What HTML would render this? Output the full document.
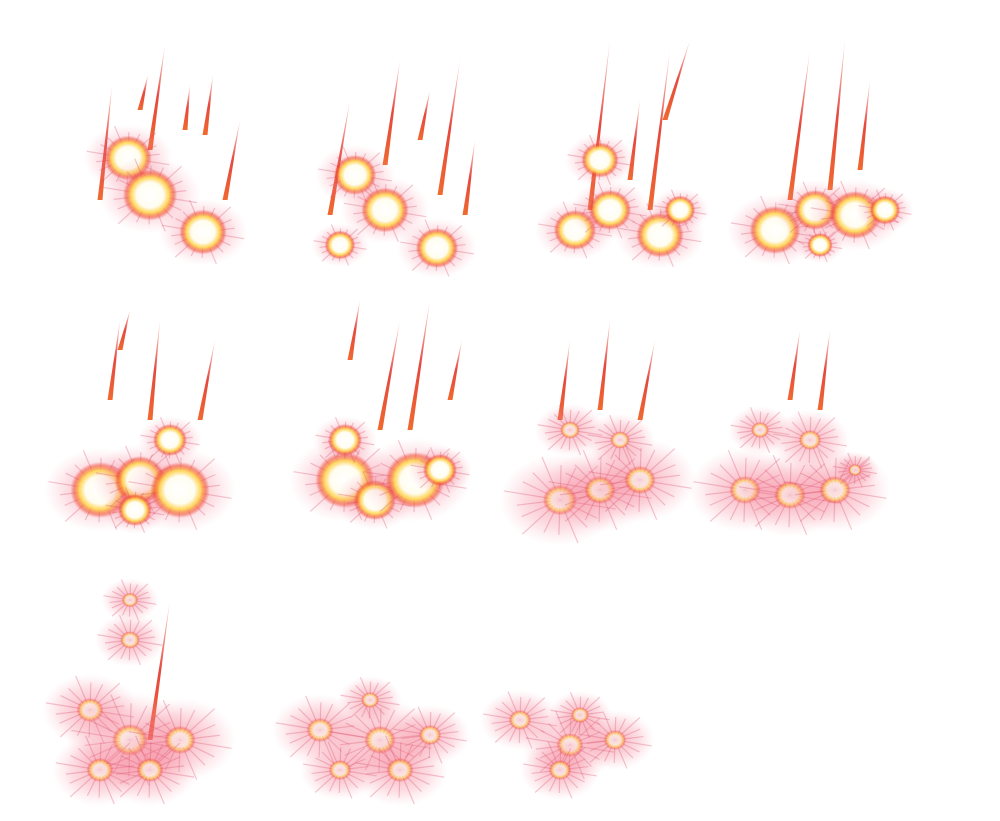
<!DOCTYPE html>
<html><head><meta charset="utf-8"><style>
html,body{margin:0;padding:0;background:#fff;width:1000px;height:821px;overflow:hidden}
svg{display:block}
</style></head><body>
<svg id="sheet" width="1000" height="821" viewBox="0 0 1000 821" xmlns="http://www.w3.org/2000/svg">
<defs>
<radialGradient id="halo"><stop offset="0" stop-color="#f25a78" stop-opacity="0.5"/><stop offset="0.6" stop-color="#f47a90" stop-opacity="0.25"/><stop offset="1" stop-color="#f7a0b0" stop-opacity="0"/></radialGradient>
<radialGradient id="core"><stop offset="0" stop-color="#ffffff"/><stop offset="0.5" stop-color="#fffdf0"/><stop offset="0.7" stop-color="#ffd850" stop-opacity="0.9"/><stop offset="0.88" stop-color="#f04020" stop-opacity="0.5"/><stop offset="1" stop-color="#e83030" stop-opacity="0"/></radialGradient>
<linearGradient id="streak" x1="0" y1="0" x2="0" y2="1"><stop offset="0" stop-color="#e83a30" stop-opacity="0.15"/><stop offset="0.5" stop-color="#e23428" stop-opacity="0.9"/><stop offset="1" stop-color="#f06a30"/></linearGradient>
</defs>
</svg>
<script>
const NS="http://www.w3.org/2000/svg";
const svg=document.getElementById('sheet');
const frame1Bursts=[[128,158,28],[150,195,32],[203,232,28]];
const frame1Streaks=[[100,200,112,85],[150,150,165,45],[185,130,190,85],[205,135,213,75],[225,200,240,120],[140,110,148,75]];
const frame2Bursts=[[355,175,25],[385,210,28],[437,248,25],[340,245,18]];
const frame2Streaks=[[330,215,350,100],[385,165,400,60],[440,195,460,60],[465,215,475,140],[420,140,430,90]];
const frame3Bursts=[[600,160,22],[575,230,25],[610,210,25],[660,235,28],[680,210,18]];
const frame3Streaks=[[590,210,610,40],[650,210,670,50],[630,180,640,100],[665,120,690,40]];
const frame4Bursts=[[775,230,30],[815,210,25],[855,215,30],[885,210,18],[820,245,15]];
const frame4Streaks=[[790,200,810,50],[830,190,845,40],[860,170,870,80]];
const frame5Bursts=[[100,490,35],[140,480,30],[180,490,35],[135,510,20],[170,440,20]];
const frame5Streaks=[[110,400,120,320],[150,420,160,320],[200,420,215,340],[120,350,130,310]];
const frame6Bursts=[[345,480,35],[375,500,25],[415,480,35],[440,470,20],[345,440,20]];
const frame6Streaks=[[350,360,360,300],[380,430,400,320],[410,430,430,300],[450,400,462,340]];
const frame7Bursts=[[560,500,38],[600,490,35],[640,480,35],[570,430,22],[620,440,22]];
const frame7Streaks=[[560,420,570,340],[600,410,610,320],[640,420,655,340]];
const frame8Bursts=[[745,490,35],[790,495,35],[835,490,35],[760,430,20],[810,440,25],[855,470,15]];
const frame8Streaks=[[790,400,800,330],[820,410,830,330]];
const frame9Bursts=[[90,710,30],[130,740,40],[180,740,35],[100,770,30],[150,770,30],[130,640,22],[130,600,18]];
const frame9Streaks=[[150,740,170,600]];
const frame10Bursts=[[320,730,30],[380,740,35],[430,735,25],[340,770,25],[400,770,30],[370,700,20]];
const frame10Streaks=[];
const frame11Bursts=[[520,720,25],[570,745,30],[615,740,25],[580,715,20],[560,770,25]];
const frame11Streaks=[];
const frames=[[frame1Bursts,frame1Streaks],[frame2Bursts,frame2Streaks],[frame3Bursts,frame3Streaks],[frame4Bursts,frame4Streaks],[frame5Bursts,frame5Streaks],[frame6Bursts,frame6Streaks],[frame7Bursts,frame7Streaks],[frame8Bursts,frame8Streaks],[frame9Bursts,frame9Streaks],[frame10Bursts,frame10Streaks],[frame11Bursts,frame11Streaks]];
const late=[false,false,false,false,false,false,true,true,true,true,true];
frames.forEach((f,i)=>{
  const g=document.createElementNS(NS,'g');
  
  
  svg.appendChild(g);
  f[1].forEach(s=>{
    const p=document.createElementNS(NS,'polygon');
    
    
    const [x1,y1,x2,y2]=s;
    p.setAttribute('points',`${x2},${y2} ${x1-2.5},${y1} ${x1+2.5},${y1}`);
    p.setAttribute('fill','url(#streak)');
    g.appendChild(p);
  });
  f[0].forEach(b=>{
    const [x,y,r]=b;
    const h=document.createElementNS(NS,'ellipse');
    
    
    h.setAttribute('cx',x);h.setAttribute('cy',y);
    h.setAttribute('rx',r*1.6);h.setAttribute('ry',r*1.2);
    h.setAttribute('fill','url(#halo)');
    g.appendChild(h);
    for(let k=0;k<18;k++){
      const a=k/18*Math.PI*2+0.2;
      const len=(k%3===0?1.5:1.15);
      const l=document.createElementNS(NS,'line');
      
      
      l.setAttribute('x1',x);l.setAttribute('y1',y);
      l.setAttribute('x2',x+Math.cos(a)*r*len);l.setAttribute('y2',y+Math.sin(a)*r*len*0.8);
      l.setAttribute('stroke','#d84868');l.setAttribute('stroke-opacity','0.3');l.setAttribute('stroke-width','1.2');
      g.appendChild(l);
    }
    const c=document.createElementNS(NS,'ellipse');
    
    
    c.setAttribute('cx',x);c.setAttribute('cy',y);
    c.setAttribute('rx',r*(late[i]?0.45:0.85));c.setAttribute('ry',r*(late[i]?0.4:0.8));
    c.setAttribute('fill','url(#core)');
    if(late[i]) c.setAttribute('opacity','0.7');
    g.appendChild(c);
  });
});
</script>
</body></html>
